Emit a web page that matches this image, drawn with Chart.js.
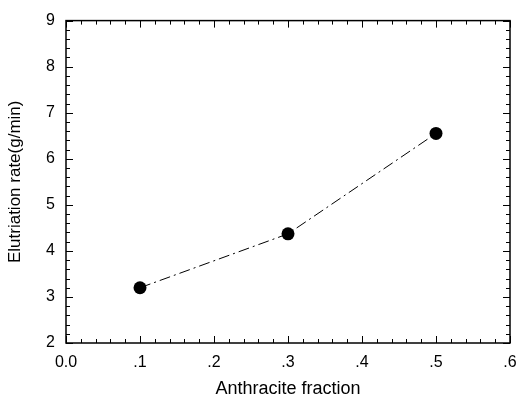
<!DOCTYPE html>
<html>
<head>
<meta charset="utf-8">
<script src="https://cdn.jsdelivr.net/npm/chart.js@4/dist/chart.umd.min.js"></script>
<style>
  html, body { margin:0; padding:0; background:#fff; }
  #wrap { width:518px; height:401px; }
</style>
</head>
<body>
<div id="wrap"><canvas id="c" width="518" height="401"></canvas></div>
<script>
// data
const fractions = [0.1, 0.3, 0.5];
const rates = [3.2, 4.37, 6.55];
const xTicks = [0, 0.1, 0.2, 0.3, 0.4, 0.5, 0.6];
const yTicks = [2, 3, 4, 5, 6, 7, 8, 9];

const family = '"Liberation Sans", Arial, sans-serif';
const tickFont = {family, size:16};

// frame + inward ticks on all four sides, like the old plotting package
const frameTicks = {
  id:'frameTicks',
  afterDraw(chart){
    const {ctx, chartArea:a, scales:{x, y}} = chart;
    ctx.save();
    ctx.strokeStyle = '#000';
    ctx.lineWidth = 1.5;
    ctx.strokeRect(a.left, a.top, a.right - a.left, a.bottom - a.top);
    ctx.lineWidth = 1;
    ctx.beginPath();
    for(let i=0;i<=30;i++){
      const px = Math.round(x.getPixelForValue(i*0.02)) + .5, len = i%5===0 ? 7 : 4;
      ctx.moveTo(px, a.bottom); ctx.lineTo(px, a.bottom - len);
      ctx.moveTo(px, a.top); ctx.lineTo(px, a.top + len);
    }
    for(let i=0;i<=35;i++){
      const py = Math.round(y.getPixelForValue(2 + i*0.2)) + .5, len = i%5===0 ? 7 : 4;
      ctx.moveTo(a.left, py); ctx.lineTo(a.left + len, py);
      ctx.moveTo(a.right, py); ctx.lineTo(a.right - len, py);
    }
    ctx.stroke();
    ctx.restore();
  }
};

new Chart(document.getElementById('c'), {
  type:'scatter',
  data:{
    datasets:[{
      data: fractions.map((f,i)=>({x:f, y:rates[i]})),
      showLine:true,
      borderColor:'#000',
      borderWidth:1,
      borderDash:[11,4,2,4],
      backgroundColor:'#000',
      pointRadius:6.5,
      pointBorderWidth:0
    }]
  },
  options:{
    responsive:false,
    animation:false,
    layout:{padding:{top:15, right:8, left:0, bottom:0}},
    plugins:{legend:{display:false}, tooltip:{enabled:false}},
    scales:{
      x:{
        type:'linear', min:0, max:0.6,
        afterBuildTicks: s => { s.ticks = xTicks.map(v=>({value:v})); },
        afterFit: s => { s.height = 58; s.paddingLeft = 0; s.paddingRight = 0; },
        grid:{display:false, drawTicks:false},
        border:{display:false},
        ticks:{color:'#000', font:tickFont, padding:10, maxRotation:0,
          callback: v => v===0 ? '0.0' : '.' + Math.round(v*10)},
        title:{display:true, text:'Anthracite fraction', color:'#000', font:{family, size:18}, padding:{top:0, bottom:1}}
      },
      y:{
        type:'linear', min:2, max:9,
        afterBuildTicks: s => { s.ticks = yTicks.map(v=>({value:v})); },
        afterFit: s => { s.width = 66; },
        grid:{display:false, drawTicks:false},
        border:{display:false},
        ticks:{color:'#000', font:tickFont, padding:11},
        title:{display:true, text:'Elutriation rate(g/min)', color:'#000', font:{family, size:17}, padding:{top:5, bottom:0}}
      }
    }
  },
  plugins:[frameTicks]
});
</script>
</body>
</html>
